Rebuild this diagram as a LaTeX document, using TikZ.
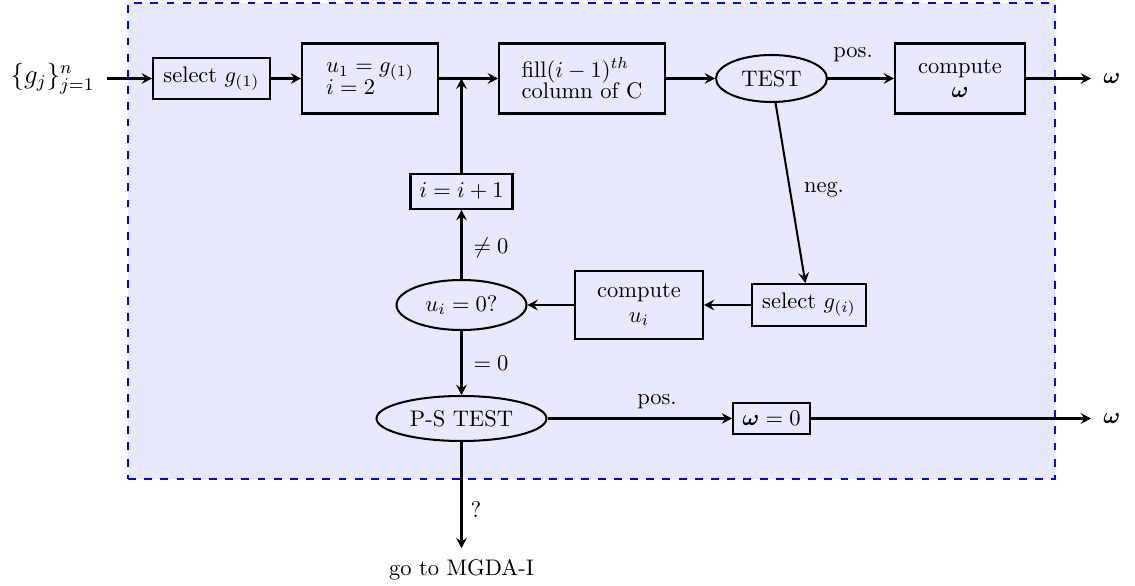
\documentclass[tikz,border=0pt]{standalone}
\usepackage{amsmath,amssymb,bm}
\usetikzlibrary{shapes.geometric,arrows.meta}
\newdimen\pxd \pxd=0.44457pt
\begin{document}
\begin{tikzpicture}[x=0.015625cm,y=-0.015625cm,
  box/.style={draw, rectangle, line width=0.9pt, inner sep=0pt},
  oval/.style={draw, ellipse, line width=0.9pt, inner sep=0pt},
  conn/.style={-{Stealth[length=4.6pt, width=4.8pt, inset=1.7pt]}, line width=0.9pt},
  lbl/.style={inner sep=0pt}]
\useasboundingbox (0,0) rectangle (1135,586);
\node[draw=blue, fill=blue!9, line width=1.2pt, dash pattern=on 3.5pt off 3.7pt,
      inner sep=0pt, minimum width=927\pxd, minimum height=476\pxd] (frame) at (591.5,241) {};
% nodes
\node[anchor=east, inner xsep=12\pxd] (in) at (107,78.5) {\large$\{g_j\}_{j=1}^n$};
\node[box, minimum width=117\pxd, minimum height=41\pxd] (sel1) at (211.5,78.5) {select $g_{(1)}$};
\node[box, minimum width=136\pxd, minimum height=70\pxd, align=left] (u1) at (370,78.5) {$u_1=g_{(1)}$\\[-2.5pt]$i=2$};
\node[box, minimum width=166\pxd, minimum height=70\pxd, align=left] (fill) at (582,78.5) {fill$(i-1)^{th}$\\[-2.5pt]column of C};
\node[oval, minimum width=111\pxd, minimum height=47\pxd] (test) at (771.5,78.5) {TEST};
\node[box, minimum width=130\pxd, minimum height=70\pxd, align=center] (compw) at (960,78.5) {compute\\[-1pt]$\bm{\omega}$};
\node[anchor=west, inner xsep=12\pxd] (out1) at (1091,78.5) {$\bm{\omega}$};
\coordinate (junc) at (461.5,78.5);
\node[box, minimum width=102\pxd, minimum height=35\pxd] (inc) at (461.5,191.5) {$i=i+1$};
\node[oval, minimum width=130\pxd, minimum height=50\pxd] (ui) at (461.5,305) {$u_i=0?$};
\node[box, minimum width=128\pxd, minimum height=68\pxd, align=center] (compu) at (639,305) {compute\\[-1pt]$u_i$};
\node[box, minimum width=114\pxd, minimum height=42\pxd] (sel2) at (809,305) {select $g_{(i)}$};
\node[oval, minimum width=170\pxd, minimum height=45\pxd] (ps) at (461.5,418.5) {P-S TEST};
\node[box, minimum width=77\pxd, minimum height=31\pxd] (om0) at (771.5,418.5) {$\bm{\omega}=0$};
\node[anchor=west, inner xsep=12\pxd] (out2) at (1091,418.5) {$\bm{\omega}$};
\node[inner ysep=11\pxd] (mgda) at (461.5,570) {go to MGDA-I};
% connectors
\draw[conn] (in.east) -- (sel1);
\draw[conn] (sel1) -- (u1);
\draw[conn] (u1) -- (fill);
\draw[conn] (fill) -- (test);
\draw[conn] (test) -- (compw) node[lbl] (lpos1) at (853,55) {pos.};
\draw[conn] (compw) -- (out1.west);
\draw[conn] (test) -- (sel2) node[lbl] (lneg) at (824,190) {neg.};
\draw[conn] (sel2) -- (compu);
\draw[conn] (compu) -- (ui);
\draw[conn] (ui) -- (inc) node[lbl] (lne) at (491,248) {$\neq 0$};
\draw[conn] (inc) -- (junc);
\draw[conn] (ui) -- (ps) node[lbl] (leq) at (491,363) {$=0$};
\draw[conn] (ps) -- (om0) node[lbl] (lpos2) at (657,401.5) {pos.};
\draw[conn] (om0) -- (out2.west);
\draw[conn] (ps) -- (mgda) node[lbl] (lq) at (476,510) {?};
\end{tikzpicture}
\end{document}
